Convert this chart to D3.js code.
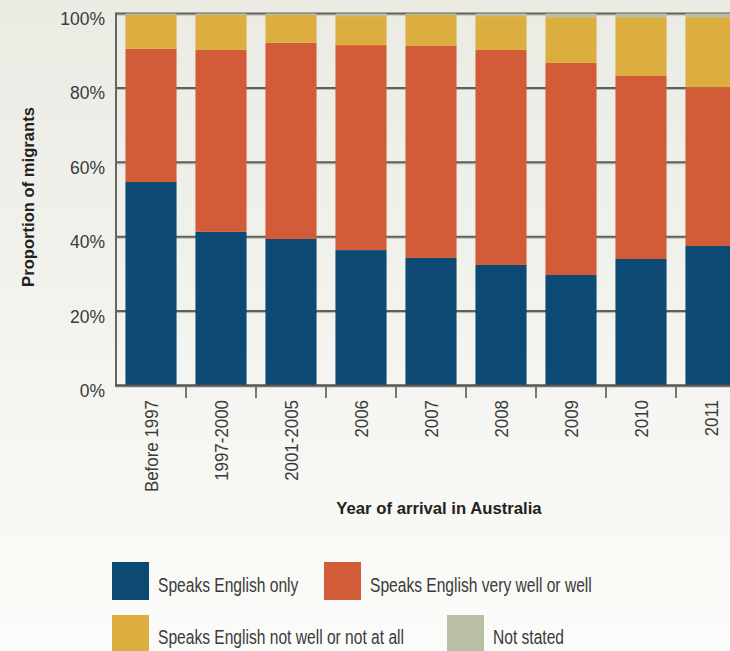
<!DOCTYPE html>
<html><head><meta charset="utf-8">
<script src="https://cdn.jsdelivr.net/npm/d3@7"></script>
<style>
html,body{margin:0;padding:0;}
body{width:730px;height:651px;overflow:hidden;}
text{font-family:"Liberation Sans",Arial,sans-serif;fill:#3a3a3a;}
</style></head><body>
<svg id="c" width="730" height="651"></svg>
<script>
const categories = ["Before 1997","1997-2000","2001-2005","2006","2007","2008","2009","2010","2011"];
const seriesNames = ["Speaks English only","Speaks English very well or well","Speaks English not well or not at all","Not stated"];
const englishOnly   = [54.7, 41.3, 39.4, 36.4, 34.3, 32.4, 29.7, 34.0, 37.5];
const veryWell      = [35.8, 48.9, 52.7, 55.1, 57.0, 57.8, 57.0, 49.2, 42.7];
const notWell       = [ 9.1,  9.4,  7.5,  7.8,  8.3,  9.1, 12.3, 15.8, 18.8];
const notStated     = [ 0.4,  0.4,  0.4,  0.7,  0.4,  0.7,  1.0,  1.0,  1.0];
const yTicks = [0,20,40,60,80,100];
const colors = ["#0c4a74","#d25c38","#dcae40","#b9bfa2"];

const svg = d3.select("#c");
const defs = svg.append("defs");
const g = defs.append("linearGradient").attr("id","bg").attr("x1",0).attr("y1",0).attr("x2",0).attr("y2",1);
g.append("stop").attr("offset","0%").attr("stop-color","#ebebe4");
g.append("stop").attr("offset","100%").attr("stop-color","#fbfbf9");
svg.append("rect").attr("width",730).attr("height",651).attr("fill","url(#bg)");

const x = d3.scaleBand().domain(categories).range([116,746]).paddingInner(0.27).paddingOuter(0.135);
const y = d3.scaleLinear().domain([0,100]).range([385.5,13.5]);

// gridlines
yTicks.forEach(t=>{
  svg.append("line").attr("x1",116).attr("x2",730).attr("y1",y(t)+1.5).attr("y2",y(t)+1.5).attr("stroke","#b5b5b0").attr("stroke-width",1);
  svg.append("line").attr("x1",116).attr("x2",730).attr("y1",y(t)).attr("y2",y(t)).attr("stroke","#5f5f5c").attr("stroke-width",2);
});

// stacked bars
const rows = categories.map((c,i)=>({cat:c, s0:englishOnly[i], s1:veryWell[i], s2:notWell[i], s3:notStated[i]}));
const stack = d3.stack().keys(["s0","s1","s2","s3"])(rows);
stack.forEach((layer,k)=>{
  svg.append("g").selectAll("rect").data(layer).join("rect")
    .attr("x",d=>x(d.data.cat))
    .attr("width",x.bandwidth())
    .attr("y",d=>y(d[1]))
    .attr("height",d=>y(d[0])-y(d[1]))
    .attr("fill",colors[k]);
});

// axis lines
svg.append("line").attr("x1",116).attr("x2",116).attr("y1",12.5).attr("y2",386.5).attr("stroke","#666").attr("stroke-width",2);
svg.append("line").attr("x1",115).attr("x2",730).attr("y1",385.5).attr("y2",385.5).attr("stroke","#555").attr("stroke-width",2);

// y tick labels
svg.append("g").selectAll("text").data(yTicks).join("text")
  .attr("x",105).attr("y",d=>y(d)+11.5).attr("text-anchor","end")
  .style("font-size","17.5px").text(d=>d+"%");

// x ticks at category boundaries
const step = x.step();
svg.append("g").selectAll("line").data(categories.slice(0,-1)).join("line")
  .attr("x1",d=>x(d)+x.bandwidth()+(step-x.bandwidth())/2)
  .attr("x2",d=>x(d)+x.bandwidth()+(step-x.bandwidth())/2)
  .attr("y1",386).attr("y2",398).attr("stroke","#777").attr("stroke-width",2);

// x tick labels
svg.append("g").selectAll("text").data(categories).join("text")
  .attr("transform",d=>`translate(${x(d)+x.bandwidth()/2+6.5},400) rotate(-90) scale(0.94,1)`)
  .attr("text-anchor","end").style("font-size","18px").text(d=>d);

// axis titles
svg.append("text").attr("transform","translate(34,197) rotate(-90)").attr("text-anchor","middle")
  .style("font-size","16.6px").style("font-weight","bold").style("fill","#222").text("Proportion of migrants");
svg.append("text").attr("x",439).attr("y",514).attr("text-anchor","middle")
  .style("font-size","16.7px").style("font-weight","bold").style("fill","#222").text("Year of arrival in Australia");

// legend
const legendPos = [[112,562,158,592],[324,562,370,592],[112,615,158,644],[447,615,493,644]];
seriesNames.forEach((n,i)=>{
  const p = legendPos[i];
  svg.append("rect").attr("x",p[0]).attr("y",p[1]).attr("width",37).attr("height",38).attr("fill",colors[i]);
  svg.append("text").attr("transform",`translate(${p[2]},${p[3]}) scale(0.8,1)`).style("font-size","19.5px").text(n);
});
</script>
</body></html>
